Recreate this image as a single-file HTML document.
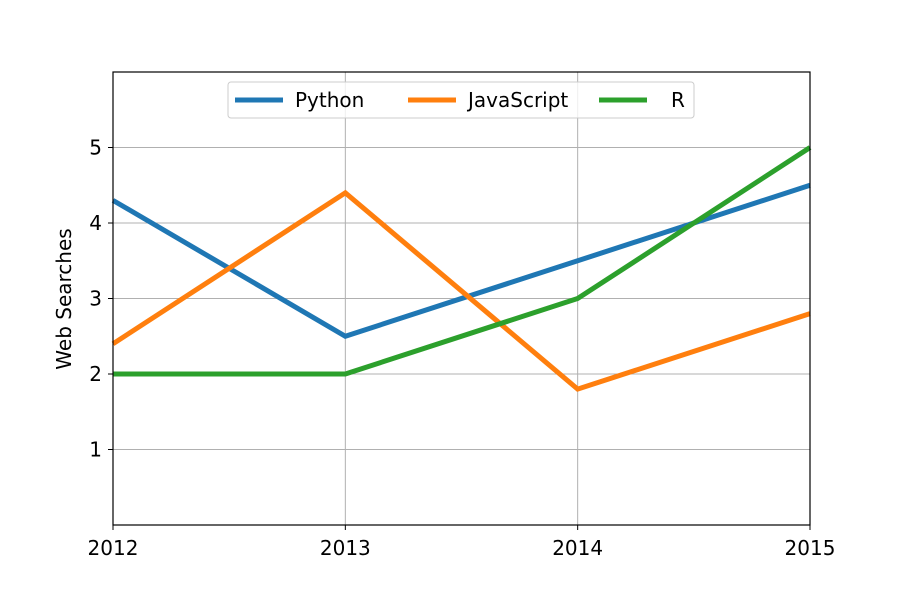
<!DOCTYPE html>
<html><head><meta charset="utf-8"><style>
body{margin:0;background:#fff}
svg text{font-family:"DejaVu Sans","Liberation Sans",sans-serif;font-size:20px;fill:#000}
</style></head><body>
<svg id="chart" width="900" height="600">
<rect width="900" height="600" fill="#fff"/>
<g id="grid"></g><g id="series"></g><g id="axes"></g><g id="legend"></g>
</svg>
<script>
const years=["2012","2013","2014","2015"];
const python=[4.3,2.5,3.5,4.5];
const javascript=[2.4,4.4,1.8,2.8];
const rlang=[2,2,3,5];
const yTicks=[1,2,3,4,5];
const seriesNames=["Python","JavaScript","R"];
const colors=["#1f77b4","#ff7f0e","#2ca02c"];
const L=113,R=810,T=72,B=525,ymax=6;
const NS="http://www.w3.org/2000/svg";
function x(i){return L+(R-L)*i/(years.length-1);}
function y(v){return B-(B-T)*v/ymax;}
function mk(tag,attrs,parent){const e=document.createElementNS(NS,tag);for(const k in attrs)e.setAttribute(k,attrs[k]);parent.appendChild(e);return e;}
const grid=document.getElementById('grid'),ser=document.getElementById('series'),ax=document.getElementById('axes'),lg=document.getElementById('legend');
years.forEach((yr,i)=>{
 const g=mk('line',{x1:x(i),x2:x(i),y1:T,y2:B,stroke:'#b0b0b0','stroke-width':1},grid);
 
 
 const t=mk('line',{x1:x(i),x2:x(i),y1:B,y2:B+5,stroke:'#000'},ax);
 
 
 const tx=mk('text',{x:x(i),y:B+30,'text-anchor':'middle'},ax);tx.textContent=yr;
 
 
});
yTicks.forEach(v=>{
 const g=mk('line',{x1:L,x2:R,y1:y(v),y2:y(v),stroke:'#b0b0b0','stroke-width':1},grid);
 
 
 const t=mk('line',{x1:L-5,x2:L,y1:y(v),y2:y(v),stroke:'#000'},ax);
 
 
 const tx=mk('text',{x:L-11,y:y(v)+7,'text-anchor':'end'},ax);tx.textContent=v;
 
 
});
[python,javascript,rlang].forEach((d,s)=>{
 const p=mk('polyline',{points:d.map((v,i)=>x(i)+','+y(v)).join(' '),fill:'none',stroke:colors[s],'stroke-width':5},ser);
 
 
});
const fr=mk('rect',{x:L,y:T,width:R-L,height:B-T,fill:'none',stroke:'#000','stroke-width':1.2},ax);


const yl=mk('text',{x:0,y:0,transform:'translate(71,299) rotate(-90)','text-anchor':'middle'},ax);yl.textContent='Web Searches';


const box=mk('rect',{x:228,y:82,width:466,height:36,rx:3,fill:'#fff','fill-opacity':0.8,stroke:'#ccc'},lg);


const lx=[235,408,599],tx0=[295,468,671];
seriesNames.forEach((n,s)=>{
 const l=mk('line',{x1:lx[s],x2:lx[s]+48,y1:100,y2:100,stroke:colors[s],'stroke-width':5},lg);
 
 
 const t=mk('text',{x:tx0[s],y:107},lg);t.textContent=n;
 
 
});
</script>
</body></html>
